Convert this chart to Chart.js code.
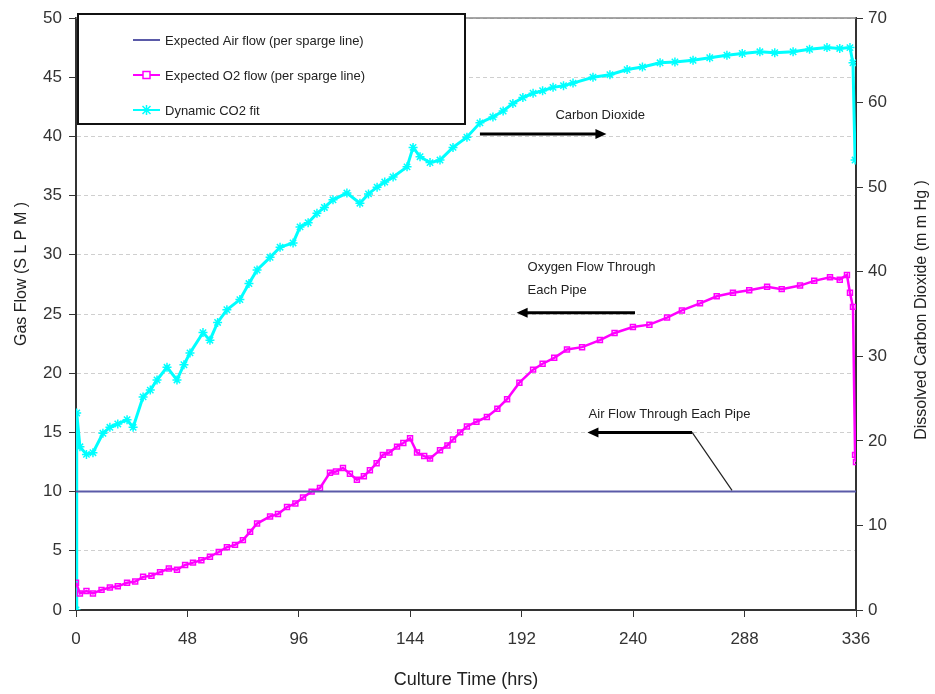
<!DOCTYPE html>
<html>
<head>
<meta charset="utf-8">
<script src="https://cdn.jsdelivr.net/npm/chart.js@4/dist/chart.umd.min.js"></script>
<style>
  html, body { margin: 0; padding: 0; background: #fff; }
  #wrap { width: 935px; height: 694px; }
</style>
</head>
<body>
<div id="wrap"><canvas id="gasChart"></canvas></div>
<script>
// x ticks (hrs)
const hourTicks = [0, 48, 96, 144, 192, 240, 288, 336];

// Expected Air flow (per sparge line) - left axis, SLPM
const airHours = [0, 336];
const airFlow = [10, 10];

// Expected O2 flow (per sparge line) - left axis, SLPM
const o2Hours = [0, 1.7, 4.5, 7.3, 11, 14.6, 18, 22, 25.5, 28.9, 32.5, 36.2, 40, 43.5, 47, 50.4, 54, 57.7, 61.5,
  65, 68.5, 71.9, 75, 78, 83.6, 87, 90.9, 94.5, 97.8, 101.5, 105.1, 109.4, 112, 115, 118, 121, 124, 126.6,
  129.5, 132.2, 135, 138.3, 141, 143.9, 146.9, 150, 152.5, 156.8, 160, 162.4, 165.5, 168.4, 172.5, 177,
  181.5, 185.7, 191, 196.9, 201, 206, 211.5, 218, 225.7, 232, 239.9, 247, 254.6, 261, 268.8, 276, 283,
  290, 297.7, 304, 311.9, 318, 324.8, 329, 332.1, 333.4, 334.7, 335.6, 336];
const o2Flow = [2.3, 1.4, 1.6, 1.4, 1.7, 1.9, 2.0, 2.3, 2.4, 2.8, 2.9, 3.2, 3.5, 3.4, 3.8, 4.0, 4.2, 4.5, 4.9,
  5.3, 5.5, 5.9, 6.6, 7.3, 7.9, 8.1, 8.7, 9.0, 9.5, 10.0, 10.3, 11.6, 11.7, 12.0, 11.5, 11.0, 11.3, 11.8,
  12.4, 13.1, 13.3, 13.8, 14.1, 14.5, 13.3, 13.0, 12.8, 13.5, 13.9, 14.4, 15.0, 15.5, 15.9, 16.3,
  17.0, 17.8, 19.2, 20.3, 20.8, 21.3, 22.0, 22.2, 22.8, 23.4, 23.9, 24.1, 24.7, 25.3, 25.9, 26.5, 26.8,
  27.0, 27.3, 27.1, 27.4, 27.8, 28.1, 27.9, 28.3, 26.8, 25.6, 13.1, 12.5];

// Dynamic CO2 fit - right axis, mm Hg
const co2Hours = [0, 0.3, 1.7, 4.5, 7.3, 11.6, 14.6, 18, 22, 24.6, 28.9, 32, 34.9, 39.2, 43.5, 46.5, 49.1,
  54.7, 57.7, 61, 65, 70.6, 74.5, 78, 83.6, 87.9, 93.5, 96.5, 100, 103.8, 107, 110.7, 116.7, 122.3,
  126, 129.7, 133, 136.6, 142.6, 145.2, 148.2, 152.5, 156.8, 162.4, 168.4, 174, 179.6, 184, 188.2,
  192.5, 196.9, 201, 205.5, 210, 214.1, 222.7, 230, 237.4, 244, 251.6, 258, 265.8, 273, 280.4, 287,
  294.6, 301, 308.9, 316, 323.5, 329, 333.4, 334.7, 335.6];
const co2Level = [0, 23.3, 19.3, 18.4, 18.6, 20.9, 21.6, 22.0, 22.5, 21.6, 25.2, 26.0, 27.2, 28.7, 27.2, 29.0,
  30.4, 32.8, 31.9, 34.0, 35.5, 36.7, 38.6, 40.2, 41.7, 42.9, 43.4, 45.3, 45.8, 46.9, 47.6, 48.5, 49.3,
  48.1, 49.2, 50.0, 50.6, 51.2, 52.4, 54.7, 53.6, 52.9, 53.2, 54.7, 55.9, 57.6, 58.3, 59.0, 59.9,
  60.6, 61.1, 61.4, 61.8, 62.0, 62.3, 63.0, 63.3, 63.9, 64.2, 64.7, 64.8, 65.0, 65.3, 65.6, 65.8,
  66.0, 65.9, 66.0, 66.3, 66.5, 66.4, 66.5, 64.7, 53.2];

const toPoints = (xs, ys) => xs.map((x, i) => ({ x: x, y: ys[i] }));

const narrow = "'Liberation Sans Narrow', 'Liberation Sans', Arial, sans-serif";
const sans = "'Liberation Sans', Arial, sans-serif";
const airColor = '#5a5aa8';
const o2Color = '#ff00ff';
const co2Color = '#00ffff';

const extras = {
  id: 'extras',
  afterDraw(chart) {
    const ctx = chart.ctx;
    const a = chart.chartArea;
    const x = chart.scales.x;
    const y = chart.scales.y;
    const px = v => x.getPixelForValue(v);
    const py = v => y.getPixelForValue(v);
    ctx.save();

    // top frame line
    ctx.strokeStyle = '#888';
    ctx.lineWidth = 1.5;
    ctx.beginPath();
    ctx.moveTo(a.left, a.top);
    ctx.lineTo(a.right, a.top);
    ctx.stroke();

    // axis titles
    ctx.fillStyle = '#222';
    ctx.textAlign = 'center';
    ctx.textBaseline = 'middle';
    ctx.font = '18px ' + narrow;
    ctx.fillText('Culture Time (hrs)', (a.left + a.right) / 2, 680);

    ctx.font = '16px ' + sans;
    ctx.save();
    ctx.translate(22, 274);
    ctx.rotate(-Math.PI / 2);
    ctx.fillText('Gas Flow (S L P M )', 0, 0);
    ctx.restore();

    ctx.save();
    ctx.translate(922, 310);
    ctx.rotate(-Math.PI / 2);
    ctx.fillText('Dissolved Carbon Dioxide (m m Hg )', 0, 0);
    ctx.restore();

    // legend box
    ctx.fillStyle = '#fff';
    ctx.fillRect(78, 14, 387, 110);
    ctx.strokeStyle = '#111';
    ctx.lineWidth = 2;
    ctx.strokeRect(78, 14, 387, 110);
    const rows = [
      { label: 'Expected Air flow (per sparge line)', color: airColor, mark: null, yy: 40 },
      { label: 'Expected O2 flow (per sparge line)', color: o2Color, mark: 'rect', yy: 75 },
      { label: 'Dynamic CO2 fit', color: co2Color, mark: 'star', yy: 110 }
    ];
    ctx.font = '13px ' + sans;
    ctx.textAlign = 'left';
    rows.forEach(r => {
      ctx.strokeStyle = r.color;
      ctx.lineWidth = 2;
      ctx.beginPath();
      ctx.moveTo(133, r.yy);
      ctx.lineTo(160, r.yy);
      ctx.stroke();
      ctx.lineWidth = 1.5;
      if (r.mark === 'rect') {
        ctx.fillStyle = '#fff';
        ctx.fillRect(143, r.yy - 3.5, 7, 7);
        ctx.strokeRect(143, r.yy - 3.5, 7, 7);
      } else if (r.mark === 'star') {
        ctx.beginPath();
        ctx.moveTo(142.5, r.yy - 4); ctx.lineTo(150.5, r.yy + 4);
        ctx.moveTo(150.5, r.yy - 4); ctx.lineTo(142.5, r.yy + 4);
        ctx.moveTo(146.5, r.yy - 5); ctx.lineTo(146.5, r.yy + 5);
        ctx.stroke();
      }
      ctx.fillStyle = '#222';
      ctx.fillText(r.label, 165, r.yy + 1);
    });

    // annotations
    const arrow = (x1, y1, x2, y2) => {
      const d = Math.sign(x2 - x1);
      ctx.strokeStyle = '#000';
      ctx.fillStyle = '#000';
      ctx.lineWidth = 3;
      ctx.beginPath();
      ctx.moveTo(x1, y1);
      ctx.lineTo(x2 - d * 8, y2);
      ctx.stroke();
      ctx.beginPath();
      ctx.moveTo(x2, y2);
      ctx.lineTo(x2 - d * 11, y2 - 5);
      ctx.lineTo(x2 - d * 11, y2 + 5);
      ctx.closePath();
      ctx.fill();
    };
    ctx.font = '13px ' + sans;
    ctx.fillStyle = '#222';
    ctx.textAlign = 'left';
    ctx.fillText('Carbon Dioxide', px(206.5), py(41.8));
    arrow(px(174), py(40.2), px(228.5), py(40.2));

    ctx.fillStyle = '#222';
    ctx.fillText('Oxygen Flow Through', px(194.5), py(28.9));
    ctx.fillText('Each Pipe', px(194.5), py(27.0));
    arrow(px(240.8), py(25.1), px(189.8), py(25.1));

    ctx.fillStyle = '#222';
    ctx.fillText('Air Flow Through Each Pipe', px(220.8), py(16.5));
    arrow(px(265.4), py(15.0), px(220.3), py(15.0));
    ctx.strokeStyle = '#222';
    ctx.lineWidth = 1.2;
    ctx.beginPath();
    ctx.moveTo(px(265.4), py(15.0));
    ctx.lineTo(px(282.6), py(10.1));
    ctx.stroke();

    ctx.restore();
  }
};

new Chart(document.getElementById('gasChart'), {
  type: 'line',
  data: {
    datasets: [
      {
        label: 'Expected Air flow (per sparge line)',
        data: toPoints(airHours, airFlow),
        borderColor: airColor,
        borderWidth: 2,
        pointRadius: 0,
        yAxisID: 'y'
      },
      {
        label: 'Expected O2 flow (per sparge line)',
        data: toPoints(o2Hours, o2Flow),
        borderColor: o2Color,
        borderWidth: 2.5,
        pointStyle: 'rect',
        pointRadius: 3.5,
        pointBorderWidth: 1.5,
        pointBorderColor: o2Color,
        pointBackgroundColor: 'rgba(255,255,255,0)',
        yAxisID: 'y'
      },
      {
        label: 'Dynamic CO2 fit',
        data: toPoints(co2Hours, co2Level),
        borderColor: co2Color,
        borderWidth: 3,
        pointStyle: 'star',
        pointRadius: 4.5,
        pointBorderWidth: 1.5,
        pointBorderColor: co2Color,
        pointBackgroundColor: co2Color,
        yAxisID: 'y1'
      }
    ]
  },
  options: {
    responsive: true,
    maintainAspectRatio: false,
    animation: false,
    layout: { padding: { top: 18, left: 0, right: 0, bottom: 0 } },
    plugins: {
      legend: { display: false },
      tooltip: { enabled: false }
    },
    scales: {
      x: {
        type: 'linear',
        min: 0,
        max: 336,
        afterBuildTicks: axis => { axis.ticks = hourTicks.map(v => ({ value: v })); },
        afterFit: axis => { axis.height = 84; },
        ticks: { color: '#333', font: { family: narrow, size: 17 }, padding: 12, maxRotation: 0 },
        grid: { drawOnChartArea: false, tickLength: 7, color: '#333' },
        border: { color: '#333', width: 2 }
      },
      y: {
        position: 'left',
        min: 0,
        max: 50,
        afterFit: axis => { axis.width = 76; },
        ticks: { stepSize: 5, color: '#333', font: { family: narrow, size: 17 }, padding: 7 },
        grid: { color: '#cfcfcf', lineWidth: 1, tickColor: '#333', tickLength: 7, tickBorderDash: [] },
        border: { color: '#333', width: 2, dash: [4, 3] }
      },
      y1: {
        position: 'right',
        min: 0,
        max: 70,
        afterFit: axis => { axis.width = 79; },
        ticks: { stepSize: 10, color: '#333', font: { family: narrow, size: 17 }, padding: 5 },
        grid: { drawOnChartArea: false, tickLength: 7, color: '#333' },
        border: { color: '#333', width: 2 }
      }
    }
  },
  plugins: [extras]
});
</script>
</body>
</html>
